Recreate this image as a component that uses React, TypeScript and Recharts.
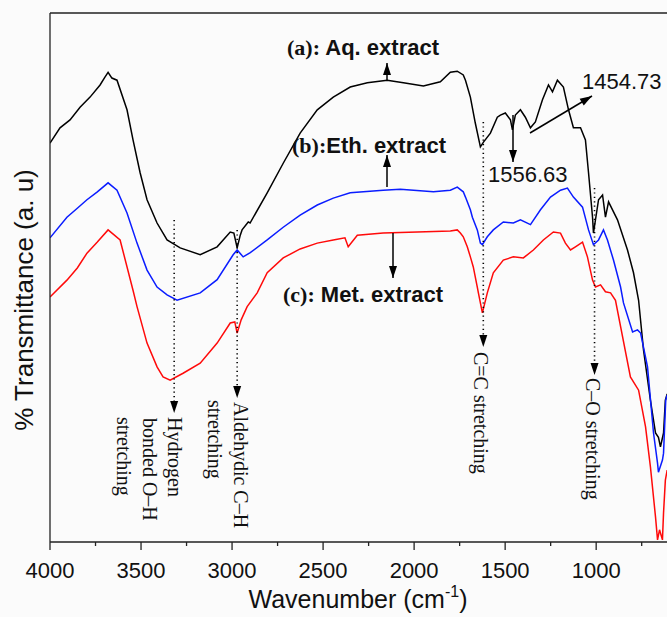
import React from 'react';
import { LineChart, Line, XAxis, YAxis, ReferenceLine } from 'recharts';

// FTIR spectra, [wavenumber cm-1, transmittance a.u.]
const aqExtract: number[][] = [
  [4000, 75.4], [3945, 78.3], [3890, 79.8], [3835, 82.2], [3780, 84.1], [3725, 86.4], [3700, 87.8],
  [3681, 88.8], [3660, 87.7], [3632, 87.3], [3577, 81.7], [3544, 76.0], [3505, 69.8], [3467, 64.7],
  [3412, 60.3], [3357, 57.1], [3285, 55.6], [3175, 54.3], [3082, 55.8], [3010, 58.6], [2990, 58.4],
  [2972, 55.6], [2955, 58.0], [2945, 59.0], [2911, 60.5], [2901, 60.3], [2807, 66.0], [2719, 71.6],
  [2626, 77.3], [2532, 81.7], [2444, 84.1], [2351, 86.0], [2257, 86.8], [2148, 87.3], [2059, 86.8],
  [1949, 86.2], [1856, 87.0], [1801, 88.8], [1763, 89.0], [1730, 88.3], [1718, 87.3], [1691, 84.1],
  [1664, 79.2], [1636, 74.7], [1619, 75.6], [1581, 77.3], [1543, 80.3], [1526, 80.7], [1499, 81.1],
  [1471, 79.8], [1460, 77.9], [1444, 80.7], [1416, 81.7], [1389, 80.3], [1361, 78.3], [1334, 79.4],
  [1295, 83.6], [1262, 86.4], [1240, 85.1], [1213, 87.3], [1180, 86.0], [1152, 81.7], [1125, 78.3],
  [1086, 78.3], [1059, 76.0], [1042, 69.8], [1020, 61.4], [1015, 58.4], [987, 64.7], [965, 65.6],
  [949, 61.4], [932, 64.3], [883, 60.9], [828, 55.2], [795, 50.9], [767, 45.7], [740, 36.3],
  [702, 26.8], [674, 20.6], [658, 19.8], [647, 18.0], [630, 20.6], [620, 26.8], [610, 28.0],
];

const ethExtract: number[][] = [
  [4000, 57.5], [3907, 61.4], [3850, 63.1], [3797, 64.7], [3740, 66.2], [3681, 67.9], [3632, 66.5],
  [3577, 62.2], [3522, 56.5], [3467, 51.4], [3412, 48.2], [3357, 46.7], [3302, 45.7], [3175, 47.1],
  [3082, 49.6], [2994, 54.3], [2972, 55.2], [2939, 53.9], [2900, 54.7], [2807, 57.1], [2719, 59.5],
  [2626, 61.8], [2532, 63.7], [2444, 65.0], [2351, 66.0], [2170, 66.5], [2076, 66.7], [1894, 66.2],
  [1801, 66.5], [1763, 67.1], [1730, 66.2], [1718, 65.2], [1691, 62.8], [1680, 61.4], [1653, 59.0],
  [1636, 56.5], [1625, 56.2], [1598, 57.7], [1565, 59.0], [1510, 60.5], [1455, 60.3], [1416, 60.9],
  [1361, 60.0], [1306, 62.8], [1251, 65.2], [1196, 66.5], [1158, 66.9], [1125, 65.2], [1075, 63.3],
  [1042, 59.0], [1015, 56.2], [987, 57.1], [960, 59.0], [938, 57.1], [905, 53.3], [866, 48.2],
  [850, 45.2], [800, 39.7], [773, 40.1], [756, 39.5], [718, 33.1], [685, 20.6], [663, 14.9],
  [658, 13.2], [636, 15.5], [630, 16.8], [618, 26.8], [610, 27.8],
];

const metExtract: number[][] = [
  [4000, 46.3], [3907, 49.5], [3850, 51.8], [3797, 54.6], [3740, 56.7], [3681, 59.0], [3615, 57.1],
  [3544, 47.6], [3522, 44.5], [3467, 37.6], [3412, 33.1], [3379, 31.2], [3340, 30.6], [3269, 31.9],
  [3175, 33.8], [3082, 37.6], [3010, 41.4], [2985, 41.6], [2972, 39.5], [2950, 42.0], [2917, 44.5],
  [2862, 47.1], [2807, 50.9], [2719, 53.7], [2626, 55.4], [2532, 56.5], [2444, 57.1], [2380, 57.5],
  [2362, 55.8], [2312, 58.0], [2170, 58.4], [1982, 58.6], [1801, 58.8], [1763, 59.0], [1746, 58.4],
  [1730, 57.7], [1708, 55.8], [1691, 53.9], [1675, 52.0], [1653, 48.2], [1647, 47.1], [1625, 43.3],
  [1598, 47.1], [1565, 50.9], [1510, 53.3], [1455, 53.9], [1400, 53.7], [1345, 55.2], [1290, 57.1],
  [1235, 58.6], [1196, 58.4], [1169, 56.5], [1141, 55.2], [1114, 55.8], [1075, 56.7], [1048, 53.9],
  [1020, 49.5], [1004, 48.2], [976, 48.6], [949, 47.3], [921, 47.1], [894, 45.7], [812, 31.2],
  [767, 28.7], [729, 21.8], [702, 14.2], [674, 4.7], [663, 0.4], [652, 2.3], [636, 0.4],
  [630, 5.5], [620, 11.7], [610, 13.6],
];

const majorTicks = [4000, 3500, 3000, 2500, 2000, 1500, 1000];
const minorTicks = [3750, 3250, 2750, 2250, 1750, 1250, 750];

const W = 669;
const H = 617;
const TOP = 13;
const LEFT = 50;
const XAXIS_H = 75;
const X_MIN = 600;
const X_MAX = 4000;
const PLOT_W = W - LEFT;

const SANS = '"Liberation Sans", Arial, sans-serif';
const SERIF = '"Liberation Serif", "Times New Roman", serif';
const AXIS = '#222';

// wavenumber -> pixel, same mapping the x axis uses
const sx = (w: number) => LEFT + ((X_MAX - w) / (X_MAX - X_MIN)) * PLOT_W;

const toRows = (arr: number[][]) => arr.map(([w, t]) => ({ w, t }));

const WaveTick = (props: any) => {
  const { x, y, payload } = props;
  const major = majorTicks.includes(payload.value);
  return (
    <g>
      <line x1={x} x2={x} y1={y} y2={y + (major ? 8 : 4)} stroke={AXIS} strokeWidth={1.3} />
      {major && (
        <text x={x} y={y + 36} textAnchor="middle" fontSize={22} fontFamily={SANS} fill="#111">
          {payload.value}
        </text>
      )}
    </g>
  );
};

const Head = ({ x, y, dir }: { x: number; y: number; dir: number }) => {
  // dir: angle of arrow direction in degrees (0 = right, 90 = down)
  return (
    <polygon
      points="0,0 -12,-4 -12,4"
      transform={`translate(${x},${y}) rotate(${dir})`}
      fill="#000"
    />
  );
};

const DotArrow = ({ w, y1, tip }: { w: number; y1: number; tip: number }) => {
  const x = sx(w);
  return (
    <g>
      <line x1={x} x2={x} y1={y1} y2={tip - 12} stroke="#000" strokeWidth={1.6} strokeDasharray="1.2 3.2" />
      <Head x={x} y={tip} dir={90} />
    </g>
  );
};

const Arrow = ({ x1, y1, x2, y2 }: { x1: number; y1: number; x2: number; y2: number }) => {
  const ang = (Math.atan2(y2 - y1, x2 - x1) * 180) / Math.PI;
  return (
    <g>
      <line x1={x1} y1={y1} x2={x2} y2={y2} stroke="#000" strokeWidth={1.5} />
      <Head x={x2} y={y2} dir={ang} />
    </g>
  );
};

const VText = ({ x, y, children }: { x: number; y: number; children: React.ReactNode }) => (
  <text x={x} y={y} transform={`rotate(90 ${x} ${y})`} fontSize={20} fontFamily={SERIF} fill="#111">
    {children}
  </text>
);

const Annotations = () => (
  <svg width={667} height={617} style={{ position: 'absolute', left: 0, top: 0, pointerEvents: 'none' }}>
    {/* series labels */}
    <text x={287} y={55} fontSize={22} fontWeight="bold" fill="#111">
      <tspan fontFamily={SERIF}>(a):</tspan>
      <tspan fontFamily={SANS}> Aq. extract</tspan>
    </text>
    <Arrow x1={387} y1={80} x2={387} y2={63} />
    <text x={292} y={153} fontSize={22} fontWeight="bold" fill="#111">
      <tspan fontFamily={SERIF}>(b):</tspan>
      <tspan fontFamily={SANS}>Eth. extract</tspan>
    </text>
    <Arrow x1={387} y1={187} x2={387} y2={155} />
    <text x={283} y={302} fontSize={22} fontWeight="bold" fill="#111">
      <tspan fontFamily={SERIF}>(c):</tspan>
      <tspan fontFamily={SANS}> Met. extract</tspan>
    </text>
    <Arrow x1={393} y1={233} x2={393} y2={278} />

    {/* peak values */}
    <text x={582} y={89} fontSize={22} fontFamily={SANS} fill="#111">1454.73</text>
    <Arrow x1={530} y1={133} x2={592} y2={96} />
    <text x={488} y={182} fontSize={22} fontFamily={SANS} fill="#111">1556.63</text>
    <Arrow x1={513} y1={115} x2={513} y2={162} />

    {/* band assignments */}
    <DotArrow w={3318} y1={220} tip={413} />
    <VText x={168} y={417}>Hydrogen</VText>
    <VText x={143} y={418}>bonded O–H</VText>
    <VText x={117} y={417}>stretching</VText>

    <DotArrow w={2972} y1={230} tip={398} />
    <VText x={234} y={402}>Aldehydic C–H</VText>
    <VText x={208} y={400}>stretching</VText>

    <DotArrow w={1620} y1={122} tip={347} />
    <VText x={474} y={352}>C=C stretching</VText>

    <DotArrow w={1009} y1={188} tip={375} />
    <VText x={586} y={378}>C–O stretching</VText>

    {/* axis titles */}
    <text x={358} y={608} textAnchor="middle" fontSize={25} fontFamily={SANS} fill="#111">
      Wavenumber (cm<tspan fontSize={16} dy={-11}>-1</tspan>
      <tspan dy={11}>)</tspan>
    </text>
    <text x={33} y={300} transform="rotate(-90 33 300)" textAnchor="middle" fontSize={26} fontFamily={SANS} fill="#111">
      % Transmittance (a. u)
    </text>
  </svg>
);

export default function App() {
  return (
    <div
      style={{
        position: 'absolute',
        left: 0,
        top: 0,
        width: 667,
        height: 617,
        overflow: 'hidden',
        background: '#fbfbfb',
      }}
    >
      <LineChart width={W} height={H} margin={{ top: TOP, right: 0, bottom: 0, left: 0 }}>
        <XAxis
          dataKey="w"
          type="number"
          domain={[X_MIN, X_MAX]}
          reversed
          ticks={[...majorTicks, ...minorTicks]}
          interval={0}
          height={XAXIS_H}
          tickSize={0}
          tickMargin={0}
          tickLine={false}
          tick={<WaveTick />}
          axisLine={{ stroke: AXIS, strokeWidth: 1.3 }}
          allowDataOverflow
        />
        <YAxis
          type="number"
          domain={[0, 100]}
          width={LEFT}
          tick={false}
          tickLine={false}
          axisLine={{ stroke: AXIS, strokeWidth: 1.3 }}
        />
        <ReferenceLine y={100} stroke={AXIS} strokeWidth={1.3} />
        <Line data={toRows(aqExtract)} dataKey="t" type="linear" stroke="#000000" strokeWidth={1.5} dot={false} isAnimationActive={false} />
        <Line data={toRows(ethExtract)} dataKey="t" type="linear" stroke="#0a1cff" strokeWidth={1.5} dot={false} isAnimationActive={false} />
        <Line data={toRows(metExtract)} dataKey="t" type="linear" stroke="#ff0a0a" strokeWidth={1.5} dot={false} isAnimationActive={false} />
      </LineChart>
      <Annotations />
    </div>
  );
}
